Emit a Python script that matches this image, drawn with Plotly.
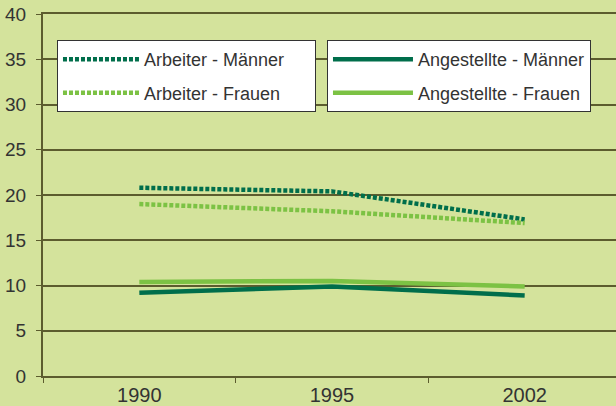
import plotly.graph_objects as go

# values (percent)
years = ["1990", "1995", "2002"]
arbeiter_maenner = [20.8, 20.4, 17.3]
arbeiter_frauen = [19.0, 18.2, 16.9]
angestellte_maenner = [9.2, 9.9, 8.9]
angestellte_frauen = [10.4, 10.5, 9.9]
y_ticks = [0, 5, 10, 15, 20, 25, 30, 35, 40]

dark_green = "#006e4b"
light_green = "#7cc244"
bg = "#d4e39c"
grid = "#5c5c2e"
font = "Liberation Sans, Arial, sans-serif"
pad = "\u00a0" * 5  # widen the left legend box a bit

fig = go.Figure()

fig.add_trace(go.Scatter(
    x=years, y=arbeiter_maenner, name="Arbeiter - Männer" + pad, mode="lines",
    line=dict(color=dark_green, width=4.5, dash="4px,2px"),
    legend="legend", legendgroup="am"))
fig.add_trace(go.Scatter(
    x=years, y=arbeiter_frauen, name="Arbeiter - Frauen" + pad, mode="lines",
    line=dict(color=light_green, width=4.5, dash="4px,2px"),
    legend="legend", legendgroup="af"))
fig.add_trace(go.Scatter(
    x=years, y=angestellte_maenner, name="Angestellte - Männer", mode="lines",
    line=dict(color=dark_green, width=4.5),
    legend="legend2", legendgroup="gm"))
fig.add_trace(go.Scatter(
    x=years, y=angestellte_frauen, name="Angestellte - Frauen", mode="lines",
    line=dict(color=light_green, width=4.5),
    legend="legend2", legendgroup="gf"))

legend_style = dict(
    bgcolor="white", bordercolor="#333333", borderwidth=1,
    font=dict(family=font, size=18, color="#333333"),
    xanchor="left", yanchor="top", traceorder="grouped", tracegroupgap=7,
)

fig.update_layout(
    width=616, height=406,
    margin=dict(l=43, r=0, t=14, b=30),
    paper_bgcolor=bg, plot_bgcolor=bg,
    font=dict(family=font, size=20, color="#333333"),
    legend=dict(x=0.0244, y=0.928, itemwidth=76, **legend_style),
    legend2=dict(x=0.4956, y=0.928, itemwidth=80, **legend_style),
    xaxis=dict(
        type="category", range=[-0.5, 2.474], automargin=False,
        showgrid=False, showline=True, linecolor=grid, linewidth=2, mirror=True,
        ticks="outside", tickson="boundaries", ticklen=5, tickcolor=grid,
        tickfont=dict(size=20, color="#333333"), ticklabeloverflow="allow",
    ),
    yaxis=dict(
        range=[0, 40], tickvals=y_ticks, automargin=False,
        showgrid=True, gridcolor=grid, gridwidth=1.5,
        showline=True, linecolor=grid, linewidth=2, zeroline=False,
        ticks="outside", ticklen=5, tickcolor=grid, ticklabelstandoff=6,
        tickfont=dict(size=19, color="#333333"), ticklabeloverflow="allow",
    ),
)

config = {'displayModeBar': False}
# drop the default 8px page margin so the figure fills the window
fig.write_html("out.html", config=config,
               post_script="document.body.style.margin = '0';")
